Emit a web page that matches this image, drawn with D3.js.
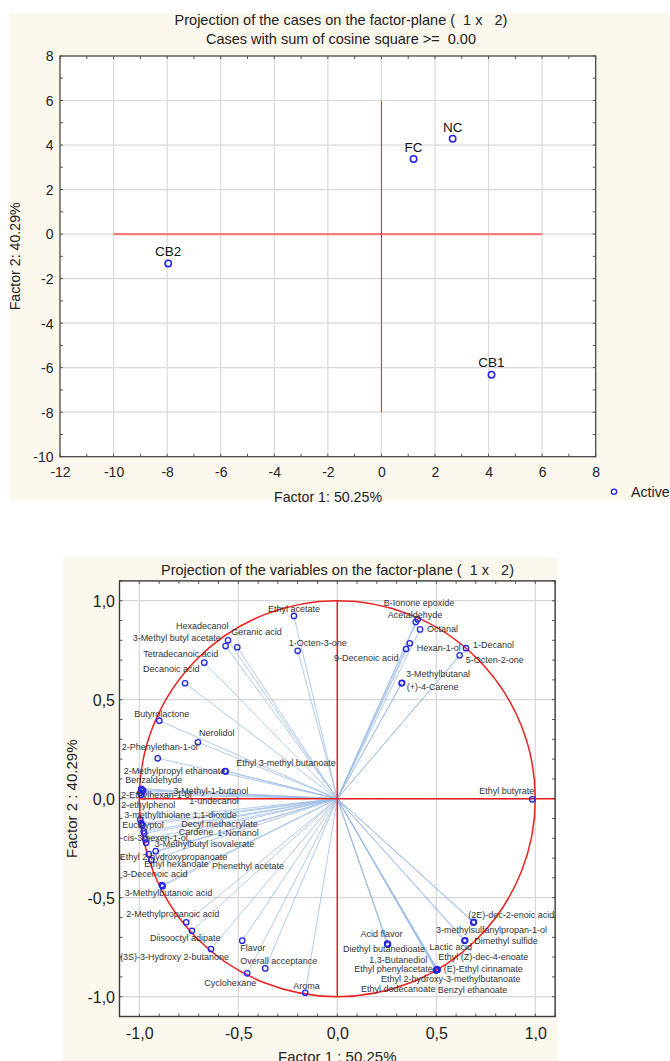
<!DOCTYPE html>
<html><head><meta charset="utf-8">
<script src="https://cdn.jsdelivr.net/npm/d3@7"></script>
<style>
body{margin:0;background:#fff;}
svg text{font-family:"Liberation Sans",Arial,sans-serif;white-space:pre;}
</style></head>
<body>
<svg id="c" width="670" height="1061"></svg>
<script>
// ---------- DATA ----------
const caseNames = ["FC","NC","CB2","CB1"];
const caseF1 = [1.20, 2.66, -7.96, 4.11];
const caseF2 = [3.37, 4.28, -1.32, -6.32];
const topXTicks = [-12,-10,-8,-6,-4,-2,0,2,4,6,8];
const topYTicks = [-10,-8,-6,-4,-2,0,2,4,6,8];

const varNames = ["Ethyl acetate","1-Octen-3-one","Hexadecanol","3-Methyl butyl acetate","Geranic acid",
"Tetradecanoic acid","Decanoic acid","Butyrolactone","Nerolidol","2-Phenylethan-1-ol",
"2-Methylpropyl ethanoate","Ethyl 3-methyl butanoate","Benzaldehyde","2-Ethylhexan-1-ol","3-Methyl-1-butanol",
"2-ethylphenol","1-undecanol","3-methylthiolane 1,1-dioxide","Eucalyptol","Decyl methacrylate",
"Cardene","1-Nonanol","cis-3-hexen-1-ol","3-Methylbutyl isovalerate","Ethyl 2-hydroxypropanoate",
"Ethyl hexanoate","Phenethyl acetate","3-Decenoic acid","3-Methylbutanoic acid","2-Methylpropanoic acid",
"Diisooctyl adipate","(3S)-3-Hydroxy 2-butanone","Flavor","Overall acceptance","Cyclohexane",
"Aroma","B-Ionone epoxide","Acetaldehyde","Octanal","9-Decenoic acid",
"Hexan-1-ol","1-Decanol","5-Octen-2-one","3-Methylbutanal","(+)-4-Carene",
"Ethyl butyrate","(2E)-dec-2-enoic acid","3-methylsulfanylpropan-1-ol","Dimethyl sulfide","Lactic acid",
"Ethyl (Z)-dec-4-enoate","(E)-Ethyl cinnamate","Ethyl phenylacetate","Ethyl 2-hydroxy-3-methylbutanoate","Ethyl dodecanoate",
"Benzyl ethanoate","Acid flavor","Diethyl butanedioate","1,3-Butanediol"];
const varF1 = [-0.219,-0.200,-0.552,-0.564,-0.505,
-0.672,-0.769,-0.899,-0.704,-0.907,
-0.564,-0.566,-0.990,-0.985,-0.980,
-0.995,-0.990,-0.995,-0.990,-0.985,
-0.978,-0.975,-0.970,-0.917,-0.952,
-0.940,-0.966,-0.886,-0.882,-0.763,
-0.734,-0.638,-0.480,-0.364,-0.455,
-0.162,0.406,0.396,0.418,0.347,
0.366,0.650,0.618,0.327,0.325,
0.985,0.687,0.690,0.646,0.642,
0.505,0.507,0.500,0.503,0.498,
0.502,0.254,0.256,0.252];
const varF2 = [0.923,0.747,0.800,0.771,0.765,
0.687,0.583,0.394,0.285,0.204,
0.138,0.140,0.050,0.045,0.040,
0.030,0.020,-0.105,-0.125,-0.135,
-0.165,-0.175,-0.205,-0.265,-0.280,
-0.310,-0.222,-0.436,-0.442,-0.624,
-0.667,-0.759,-0.717,-0.857,-0.882,
-0.980,0.906,0.892,0.855,0.756,
0.785,0.760,0.724,0.585,0.583,
-0.003,-0.626,-0.622,-0.715,-0.718,
-0.862,-0.864,-0.866,-0.865,-0.867,
-0.863,-0.734,-0.736,-0.732];
const botTicks = [-1.0,-0.5,0.0,0.5,1.0];

// ---------- LAYOUT (label nudges in px, start-anchored) ----------
const labelNudge = [[-26,-4],[-9,-5],[-52,-11],[-93,-5],[-6,-12],
[-61,-6],[-42,-11],[-25,-4],[1,-6],[-36,-8],
[-102,3],[11,-5],[-16,-6],[-21,8],[30,3.5],
[-19,15],[48,9],[-16,-1],[-19,5],[39,2],
[35,4],[73,3],[-22,2],[-1,-4],[-29,6],
[-7,7],[66,26],[-39,-8],[-38,10],[-60,-5],
[-42,10],[-91,11],[-2,10],[-25,-4],[-43,13],
[-12,-4],[-34,-13],[-28,-4],[7,3],[-72,12],
[7,8],[7,0],[6,8],[4,-6],[5,7],
[-53,-5],[-5,-5],[-38,11],[9,4],[-35,9],
[1,-9],[6,2],[-82,1.5],[-56,12],[-75,22],
[1,23],[-27,-7],[-45,8],[-18,19]];

const svg = d3.select("#c");
const fontT = 14.5;

// ================= TOP CHART =================
svg.append("rect").attr("x",10.7).attr("y",12.7).attr("width",670-10.7).attr("height",488).attr("fill","#fdf8ee");
const xT = d3.scaleLinear().domain([-12,8]).range([60,595.7]);
const yT = d3.scaleLinear().domain([-10,8]).range([456.7,56]);
const gT = svg.append("g");
gT.append("rect").attr("x",xT(-12)).attr("y",yT(8)).attr("width",xT(8)-xT(-12)).attr("height",yT(-10)-yT(8)).attr("fill","#fff");
// grid
gT.selectAll(".gx").data(topXTicks.slice(1,-1)).join("line")
  .attr("x1",d=>xT(d)).attr("x2",d=>xT(d)).attr("y1",yT(8)).attr("y2",yT(-10))
  .attr("stroke","#dadada").attr("stroke-width",1.2);
gT.selectAll(".gy").data(topYTicks.slice(1,-1)).join("line")
  .attr("y1",d=>yT(d)).attr("y2",d=>yT(d)).attr("x1",xT(-12)).attr("x2",xT(8))
  .attr("stroke","#dadada").attr("stroke-width",1.2);
// minor inside ticks
const tx = d3.range(-12,8.01,1), ty = d3.range(-10,8.01,1);
const tk = gT.append("g").attr("stroke","#555").attr("stroke-width",1);
tx.forEach(v=>{tk.append("line").attr("x1",xT(v)).attr("x2",xT(v)).attr("y1",yT(8)).attr("y2",yT(8)+3);
               tk.append("line").attr("x1",xT(v)).attr("x2",xT(v)).attr("y1",yT(-10)).attr("y2",yT(-10)-3);});
ty.forEach(v=>{tk.append("line").attr("y1",yT(v)).attr("y2",yT(v)).attr("x1",xT(-12)).attr("x2",xT(-12)+3);
               tk.append("line").attr("y1",yT(v)).attr("y2",yT(v)).attr("x1",xT(8)).attr("x2",xT(8)-3);});
// red cross
gT.append("line").attr("x1",xT(-10)).attr("x2",xT(6)).attr("y1",yT(0)).attr("y2",yT(0)).attr("stroke","#f47c7c").attr("stroke-width",2.2);
gT.append("line").attr("x1",Math.round(xT(0))+0.5).attr("x2",Math.round(xT(0))+0.5).attr("y1",yT(6)).attr("y2",yT(-8)).attr("stroke","#ff2a2a").attr("stroke-width",1.1);
// border
gT.append("rect").attr("x",xT(-12)).attr("y",yT(8)).attr("width",xT(8)-xT(-12)).attr("height",yT(-10)-yT(8)).attr("fill","none").attr("stroke","#4a4a4a").attr("stroke-width",1.3);
// axes labels
const axTB = d3.axisBottom(xT).tickValues(topXTicks).tickSize(0).tickFormat(d=>String(d));
const gaxb = gT.append("g").attr("transform",`translate(0,${yT(-10)})`).call(axTB);
gaxb.select(".domain").remove();
gaxb.selectAll("text").attr("y",20.5).attr("dy",0).attr("font-size",14).attr("fill","#222");
const axTL = d3.axisLeft(yT).tickValues(topYTicks).tickSize(0).tickFormat(d=>String(d));
const gaxl = gT.append("g").attr("transform",`translate(${xT(-12)},0)`).call(axTL);
gaxl.select(".domain").remove();
gaxl.selectAll("text").attr("x",-6.5).attr("dy","0.35em").attr("font-size",14).attr("fill","#222");
// points
const cases = caseNames.map((n,i)=>({n,x:caseF1[i],y:caseF2[i]}));
gT.selectAll(".cp").data(cases).join("circle").attr("cx",d=>xT(d.x)).attr("cy",d=>yT(d.y)).attr("r",3.2)
  .attr("fill","none").attr("stroke","#1d1dff").attr("stroke-width",1.5);
gT.selectAll(".cl").data(cases).join("text").attr("x",d=>xT(d.x)).attr("y",d=>yT(d.y)-7.3)
  .attr("text-anchor","middle").attr("font-size",13.5).attr("fill","#111").text(d=>d.n);
// titles
svg.append("text").attr("x",341).attr("y",25).attr("text-anchor","middle").attr("font-size",fontT).attr("fill","#222")
  .text("Projection of the cases on the factor-plane (  1 x   2)");
svg.append("text").attr("x",341).attr("y",43.5).attr("text-anchor","middle").attr("font-size",fontT).attr("fill","#222")
  .text("Cases with sum of cosine square >=  0.00");
svg.append("text").attr("x",328).attr("y",501.5).attr("text-anchor","middle").attr("font-size",14.2).attr("fill","#222")
  .text("Factor 1: 50.25%");
svg.append("text").attr("transform",`translate(20,${(yT(8)+yT(-10))/2}) rotate(-90)`).attr("text-anchor","middle").attr("font-size",14.2).attr("fill","#222")
  .text("Factor 2: 40.29%");
// legend
svg.append("circle").attr("cx",614).attr("cy",491.7).attr("r",2.6).attr("fill","none").attr("stroke","#1d1dff").attr("stroke-width",1.3);
svg.append("text").attr("x",631).attr("y",497).attr("font-size",14.2).attr("fill","#222").text("Active");

// ================= BOTTOM CHART =================
svg.append("rect").attr("x",63).attr("y",557).attr("width",494).attr("height",1061-557).attr("fill","#fdf8ee");
const xB = d3.scaleLinear().domain([-1.1,1.1]).range([119.5,555.1]);
const yB = d3.scaleLinear().domain([-1.1,1.1]).range([1016.5,580.9]);
const gB = svg.append("g");
gB.append("rect").attr("x",xB(-1.1)).attr("y",yB(1.1)).attr("width",xB(1.1)-xB(-1.1)).attr("height",yB(-1.1)-yB(1.1)).attr("fill","#fff");
gB.selectAll(".gx").data(botTicks).join("line")
  .attr("x1",d=>xB(d)).attr("x2",d=>xB(d)).attr("y1",yB(1.1)).attr("y2",yB(-1.1)).attr("stroke","#d6d6d6").attr("stroke-width",1.2);
gB.selectAll(".gy").data(botTicks).join("line")
  .attr("y1",d=>yB(d)).attr("y2",d=>yB(d)).attr("x1",xB(-1.1)).attr("x2",xB(1.1)).attr("stroke","#d6d6d6").attr("stroke-width",1.2);
const tb = gB.append("g").attr("stroke","#555").attr("stroke-width",1);
d3.range(-11,12).map(v=>v/10).forEach(v=>{
  tb.append("line").attr("x1",xB(v)).attr("x2",xB(v)).attr("y1",yB(1.1)).attr("y2",yB(1.1)+3);
  tb.append("line").attr("x1",xB(v)).attr("x2",xB(v)).attr("y1",yB(-1.1)).attr("y2",yB(-1.1)-3);
  tb.append("line").attr("y1",yB(v)).attr("y2",yB(v)).attr("x1",xB(-1.1)).attr("x2",xB(-1.1)+3);
  tb.append("line").attr("y1",yB(v)).attr("y2",yB(v)).attr("x1",xB(1.1)).attr("x2",xB(1.1)-3);
});
const vars = varNames.map((n,i)=>({n,x:varF1[i],y:varF2[i],o:labelNudge[i]}));
// vectors
gB.selectAll(".vl").data(vars).join("line").attr("x1",xB(0)).attr("y1",yB(0)).attr("x2",d=>xB(d.x)).attr("y2",d=>yB(d.y))
  .attr("stroke","#9dbde6").attr("stroke-width",0.8);
// red circle + cross
gB.append("circle").attr("cx",xB(0)).attr("cy",yB(0)).attr("r",xB(1)-xB(0)).attr("fill","none").attr("stroke","#ee1f1f").attr("stroke-width",1.5);
gB.append("line").attr("x1",xB(-1)).attr("x2",xB(1.1)).attr("y1",yB(0)).attr("y2",yB(0)).attr("stroke","#ee1f1f").attr("stroke-width",1.5);
gB.append("line").attr("x1",xB(0)).attr("x2",xB(0)).attr("y1",yB(1)).attr("y2",yB(-1)).attr("stroke","#ee1f1f").attr("stroke-width",1.5);
// border
gB.append("rect").attr("x",xB(-1.1)).attr("y",yB(1.1)).attr("width",xB(1.1)-xB(-1.1)).attr("height",yB(-1.1)-yB(1.1)).attr("fill","none").attr("stroke","#3a3a3a").attr("stroke-width",1.4);
// points
gB.selectAll(".vp").data(vars).join("circle").attr("cx",d=>xB(d.x)).attr("cy",d=>yB(d.y)).attr("r",2.7)
  .attr("fill","none").attr("stroke","#2424e6").attr("stroke-width",1.3);
gB.selectAll(".vt").data(vars).join("text").attr("x",d=>xB(d.x)+d.o[0]).attr("y",d=>yB(d.y)+d.o[1])
  .attr("font-size",9).attr("fill","#333").text(d=>d.n);
// axes
const fmt = d=>d3.format(".1f")(d).replace(".",",").replace("\u2212","-");
const axBB = d3.axisBottom(xB).tickValues(botTicks).tickSize(0).tickFormat(fmt);
const gbb = gB.append("g").attr("transform",`translate(0,${yB(-1.1)})`).call(axBB);
gbb.select(".domain").remove();
gbb.selectAll("text").attr("y",22).attr("dy",0).attr("font-size",16).attr("fill","#222");
const axBL = d3.axisLeft(yB).tickValues(botTicks).tickSize(0).tickFormat(fmt);
const gbl = gB.append("g").attr("transform",`translate(${xB(-1.1)},0)`).call(axBL);
gbl.select(".domain").remove();
gbl.selectAll("text").attr("x",-4.5).attr("dy","0.36em").attr("font-size",16).attr("fill","#222");
svg.append("text").attr("x",337.5).attr("y",575).attr("text-anchor","middle").attr("font-size",fontT).attr("fill","#222")
  .text("Projection of the variables on the factor-plane (  1 x   2)");
svg.append("text").attr("x",xB(0)).attr("y",1062).attr("text-anchor","middle").attr("font-size",15).attr("fill","#222")
  .text("Factor 1 : 50.25%");
svg.append("text").attr("transform",`translate(77,${yB(0)}) rotate(-90)`).attr("text-anchor","middle").attr("font-size",15).attr("fill","#222")
  .text("Factor 2 : 40.29%");
</script>
</body></html>
